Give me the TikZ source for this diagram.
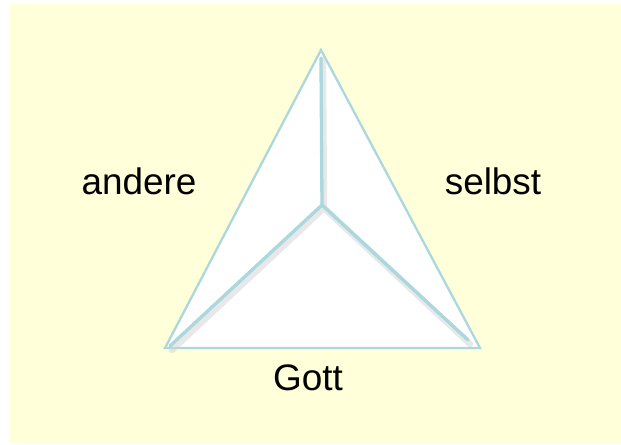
\documentclass[tikz,border=0pt]{standalone}
\usepackage{fontspec}
\setmainfont{Liberation Sans}
\definecolor{paper}{RGB}{255,255,217}
\definecolor{edge}{RGB}{170,216,222}

\begin{document}
\begin{tikzpicture}[x=0.02cm, y=-0.02cm,
    label/.style={font=\fontsize{21}{25}\selectfont},
    rim/.style={draw=edge, line width=1.3pt, line join=miter},
    spoke/.style={draw=edge, line width=1.9pt, line cap=round}]
    % Background
    \useasboundingbox (0,0) rectangle (621,444);
    \fill[paper] (10,4) rectangle (621,443);

    % Corners of the triangle
    \coordinate (top) at (321,50);
    \coordinate (left) at (165,348);
    \coordinate (right) at (480,348);
    \coordinate (mid) at (322,205);

    % Triangle
    \filldraw[fill=white, rim] (top) -- (right) -- (left) -- cycle;

    % Spokes with shadow
    \draw[gray!35, line width=3.6pt, line cap=round, opacity=0.5]
        (324,208) -- (323,60) (324,208) -- (172,350) (324,208) -- (470,344);
    \draw[spoke] (mid) -- (321,58);
    \draw[spoke] (mid) -- (170,346);
    \draw[spoke] (mid) -- (468,340);

    % Labels
    \node[label] (andere) at (139,181) {andere};
    \node[label] (selbst) at (493,181) {selbst};
    \node[label] (gott) at (308,378) {Gott};
\end{tikzpicture}
\end{document}
